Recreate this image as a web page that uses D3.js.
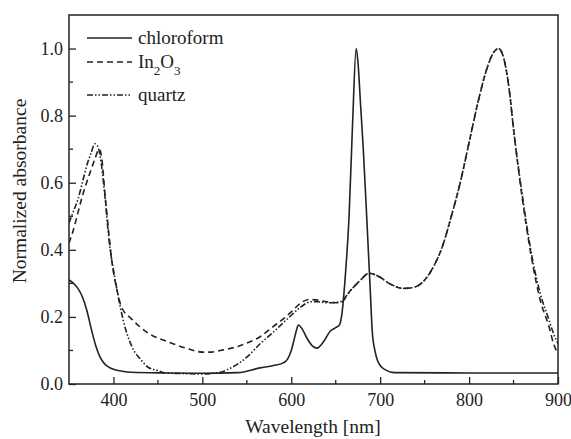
<!DOCTYPE html>
<html>
<head>
<meta charset="utf-8">
<script src="https://cdn.jsdelivr.net/npm/d3@7"></script>
<style>
  body { margin: 0; background: #fff; }
  text { font-family: "Liberation Serif", "Times New Roman", serif; fill: #222; }
</style>
</head>
<body>
<svg id="chart" width="571" height="439"></svg>
<script>
// wavelength (nm) / normalized absorbance
var chloroformX = [350, 355, 360, 365, 370, 375, 380, 385, 390, 395, 400, 410, 420, 460, 500, 540, 565, 580, 591, 596, 600, 603, 606, 608, 612, 618, 624, 629, 636, 644, 650, 654, 657, 661, 665, 669, 673, 675, 678, 681, 685, 689, 691, 694, 697, 700, 706, 716, 800, 900];
var chloroformY = [0.31, 0.30, 0.285, 0.26, 0.22, 0.165, 0.115, 0.08, 0.06, 0.05, 0.044, 0.038, 0.035, 0.033, 0.032, 0.034, 0.048, 0.055, 0.063, 0.075, 0.1, 0.13, 0.162, 0.176, 0.165, 0.135, 0.113, 0.107, 0.125, 0.158, 0.168, 0.175, 0.21, 0.33, 0.5, 0.78, 1.0, 0.96, 0.83, 0.7, 0.49, 0.27, 0.16, 0.1, 0.07, 0.055, 0.042, 0.034, 0.033, 0.033];

var in2o3X = [350, 355, 360, 365, 371, 375, 379, 384, 387, 390, 394, 398, 404, 409, 420, 430, 440, 450, 460, 470, 480, 490, 500, 510, 520, 530, 540, 550, 565, 580, 590, 600, 610, 620, 630, 640, 655, 667, 678, 687, 700, 710, 726, 740, 750, 760, 770, 780, 790, 800, 810, 820, 828, 833, 838, 845, 850, 860, 870, 880, 890, 895, 900];
var in2o3Y = [0.42, 0.46, 0.51, 0.56, 0.61, 0.64, 0.67, 0.70, 0.67, 0.58, 0.47, 0.37, 0.28, 0.23, 0.195, 0.17, 0.15, 0.137, 0.127, 0.117, 0.108, 0.1, 0.095, 0.095, 0.1, 0.105, 0.112, 0.122, 0.141, 0.172, 0.192, 0.215, 0.24, 0.252, 0.25, 0.245, 0.242, 0.28, 0.31, 0.33, 0.318, 0.3, 0.285, 0.29, 0.31, 0.35, 0.41, 0.5, 0.6, 0.72, 0.84, 0.94, 0.99, 1.0, 0.98, 0.88, 0.76, 0.55, 0.38, 0.25, 0.17, 0.12, 0.09];

var quartzX = [350, 355, 360, 365, 371, 375, 379, 382, 385, 390, 395, 402, 411, 421, 430, 439, 450, 458, 480, 500, 520, 530, 540, 550, 565, 580, 590, 600, 610, 622, 630, 640, 655, 667, 678, 687, 700, 710, 726, 740, 750, 760, 770, 780, 790, 800, 810, 820, 828, 833, 838, 845, 850, 860, 870, 880, 890, 895, 900];
var quartzY = [0.48, 0.515, 0.55, 0.6, 0.66, 0.69, 0.716, 0.71, 0.68, 0.57, 0.43, 0.31, 0.19, 0.11, 0.075, 0.05, 0.04, 0.033, 0.031, 0.03, 0.035, 0.045, 0.06, 0.08, 0.12, 0.155, 0.18, 0.205, 0.228, 0.245, 0.245, 0.242, 0.245, 0.28, 0.31, 0.33, 0.318, 0.3, 0.285, 0.29, 0.31, 0.35, 0.41, 0.5, 0.6, 0.72, 0.84, 0.94, 0.99, 1.0, 0.98, 0.88, 0.76, 0.56, 0.39, 0.27, 0.19, 0.15, 0.12];

var xTicks = [400, 500, 600, 700, 800, 900];
var yTicks = [0.0, 0.2, 0.4, 0.6, 0.8, 1.0];

var series = [
	{ name: "chloroform", xs: chloroformX, ys: chloroformY, dash: null },
	{ name: "In2O3", xs: in2o3X, ys: in2o3Y, dash: "6,4" },
	{ name: "quartz", xs: quartzX, ys: quartzY, dash: "6,2,1.5,2,1.5,2" }
];

var svg = d3.select("#chart");
var pLeft = 69, pRight = 558, pTop = 15, pBottom = 384;

var x = d3.scaleLinear().domain([350, 900]).range([pLeft, pRight]);
var y = d3.scaleLinear().domain([0, 1.1]).range([pBottom, pTop]);

var ink = "#222";

// frame
svg.append("rect")
	.attr("x", pLeft).attr("y", pTop)
	.attr("width", pRight - pLeft).attr("height", pBottom - pTop)
	.attr("fill", "none").attr("stroke", ink).attr("stroke-width", 1.5);

// x axis, ticks pointing inward
var xAxis = d3.axisBottom(x).tickValues(xTicks).tickSizeInner(-7).tickSizeOuter(0)
	.tickPadding(9).tickFormat(d3.format("d"));
var gx = svg.append("g").attr("transform", "translate(0," + pBottom + ")").call(xAxis);
gx.select(".domain").remove();
gx.selectAll("line").attr("stroke", ink).attr("stroke-width", 1.3);
gx.selectAll("text").style("font-size", "18px").style("font-family", "Liberation Serif").attr("fill", ink);
gx.selectAll(".minor").data(d3.range(450, 900, 100)).enter().append("line")
	.attr("x1", function(d) { return x(d); }).attr("x2", function(d) { return x(d); })
	.attr("y1", 0).attr("y2", -4).attr("stroke", ink).attr("stroke-width", 1.3);

// y axis
var yAxis = d3.axisLeft(y).tickValues(yTicks).tickSizeInner(-7).tickSizeOuter(0)
	.tickPadding(6).tickFormat(d3.format(".1f"));
var gy = svg.append("g").attr("transform", "translate(" + pLeft + ",0)").call(yAxis);
gy.select(".domain").remove();
gy.selectAll("line").attr("stroke", ink).attr("stroke-width", 1.3);
gy.selectAll("text").style("font-size", "18px").style("font-family", "Liberation Serif").attr("fill", ink);
gy.selectAll(".minor").data([0.1, 0.3, 0.5, 0.7, 0.9]).enter().append("line")
	.attr("y1", function(d) { return y(d); }).attr("y2", function(d) { return y(d); })
	.attr("x1", 0).attr("x2", 4).attr("stroke", ink).attr("stroke-width", 1.3);

// axis titles
svg.append("text")
	.attr("x", 313).attr("y", 433)
	.attr("text-anchor", "middle").style("font-size", "19.5px")
	.text("Wavelength [nm]");
svg.append("text")
	.attr("transform", "translate(26,191) rotate(-90)")
	.attr("text-anchor", "middle").style("font-size", "19.5px")
	.text("Normalized absorbance");

// curves
svg.append("clipPath").attr("id", "plot-clip").append("rect")
	.attr("x", pLeft).attr("y", pTop).attr("width", pRight - pLeft).attr("height", pBottom - pTop);

var line = d3.line()
	.x(function(d) { return x(d[0]); })
	.y(function(d) { return y(d[1]); })
	.curve(d3.curveMonotoneX);

series.forEach(function(s) {
	var pts = d3.zip(s.xs, s.ys);
	svg.append("path")
		.attr("d", line(pts))
		.attr("clip-path", "url(#plot-clip)")
		.attr("fill", "none")
		.attr("stroke", ink)
		.attr("stroke-width", 1.6)
		.attr("stroke-dasharray", s.dash);
});

// legend
var legendRows = [38, 62, 95];
series.forEach(function(s, i) {
	var ly = legendRows[i];
	svg.append("line")
		.attr("x1", 87).attr("x2", 132).attr("y1", ly).attr("y2", ly)
		.attr("stroke", ink).attr("stroke-width", 1.6)
		.attr("stroke-dasharray", s.dash);
	var t = svg.append("text").attr("x", 138).attr("y", ly + 6).style("font-size", "19px");
	if (s.name === "In2O3") {
		t.append("tspan").text("In");
		t.append("tspan").attr("dy", 7).style("font-size", "13px").text("2");
		t.append("tspan").attr("dy", -7).text("O");
		t.append("tspan").attr("dy", 7).style("font-size", "13px").text("3");
	} else {
		t.text(s.name);
	}
});
</script>
</body>
</html>
